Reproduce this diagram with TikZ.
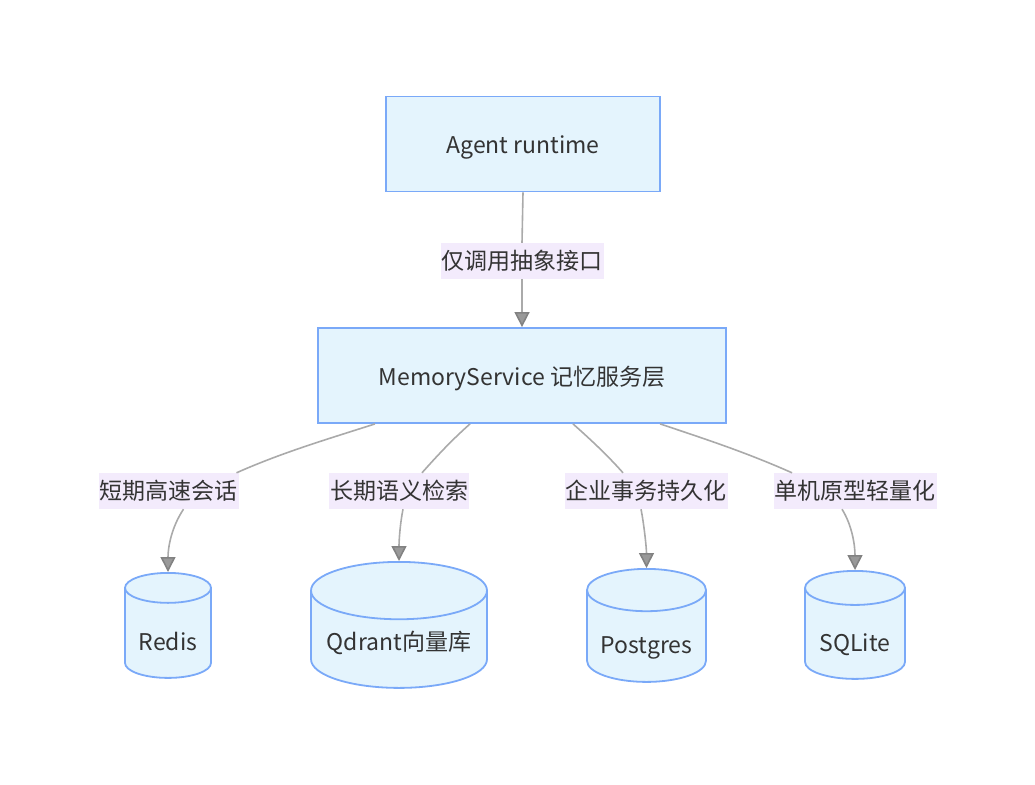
\documentclass[tikz,border=0pt]{standalone}
\usepackage{fontspec}
\setmainfont{Noto Sans CJK SC}
\usetikzlibrary{arrows.meta,shapes.geometric}
\definecolor{boxfill}{HTML}{E4F4FD}
\definecolor{boxline}{HTML}{7AA9F8}
\definecolor{lblfill}{HTML}{F3EBFC}
\definecolor{linkgray}{HTML}{AAAAAA}
\definecolor{tipgray}{HTML}{999999}
\definecolor{txtgray}{HTML}{333333}

\begin{document}
\begin{tikzpicture}[x=1pt, y=-1pt,
    every node/.style={text=txtgray, font=\fontsize{23}{28}\selectfont},
    svcbox/.style={draw=boxline, fill=boxfill, line width=1.8pt,
        minimum height=95pt, text height=24pt, text depth=5pt},
    dbcyl/.style={cylinder, shape border rotate=90, anchor=north,
        draw=boxline, fill=boxfill, line width=1.8pt,
        text height=35pt, text depth=6pt},
    linklbl/.style={fill=lblfill, inner xsep=1pt, inner ysep=0pt,
        minimum height=36pt},
    link/.style={draw=linkgray, line width=1.6pt},
    arr/.style={link, -{Triangle[length=15pt, width=15pt,
        color=tipgray!85!black, fill=tipgray]}}]
    \useasboundingbox (0,0) rectangle (1035,784);
    \path (523,144) node[svcbox, minimum width=274pt](agent){Agent runtime};
    \path (522,375.5) node[svcbox, minimum width=408pt](memsvc){MemoryService 记忆服务层};
    \path (522,261) node[linklbl](lblapi){仅调用抽象接口};
    \draw[link] (agent.south) -- (lblapi.north);
    \draw[arr] (lblapi.south) -- (memsvc.north);
    \path (168,572) node[dbcyl, aspect=0.46, minimum width=86pt, minimum height=105pt](redis){Redis};
    \path (399,561) node[dbcyl, aspect=0.38, minimum width=176pt, minimum height=126pt, text height=20pt](qdrant){Qdrant向量库};
    \path (646.5,568) node[dbcyl, aspect=0.43, minimum width=119pt, minimum height=113pt, text height=33pt](pg){Postgres};
    \path (855,570) node[dbcyl, aspect=0.44, minimum width=100pt, minimum height=108pt](sqlite){SQLite};
    \path (168.5,491) node[linklbl](lblredis){短期高速会话};
    \path (399,491) node[linklbl](lblqdrant){长期语义检索};
    \path (646,491) node[linklbl](lblpg){企业事务持久化};
    \path (855,491) node[linklbl](lblsqlite){单机原型轻量化};
    \draw[link] ([xshift=-147pt]memsvc.south) .. controls +(-50,16) and +(45,-20) .. ([xshift=68pt]lblredis.north);
    \draw[arr] ([xshift=15pt]lblredis.south) .. controls +(-12,18) and +(0,-25) .. (redis.north);
    \draw[link] ([xshift=-52pt]memsvc.south) .. controls +(-18,16) and +(16,-18) .. ([xshift=23pt]lblqdrant.north);
    \draw[arr] ([xshift=4pt]lblqdrant.south) .. controls +(-3,15) and +(0,-20) .. (qdrant.north);
    \draw[link] ([xshift=51pt]memsvc.south) .. controls +(18,16) and +(-16,-18) .. ([xshift=-23pt]lblpg.north);
    \draw[arr] ([xshift=-5pt]lblpg.south) .. controls +(3,15) and +(0,-20) .. (pg.north);
    \draw[link] ([xshift=138pt]memsvc.south) .. controls +(48,16) and +(-45,-20) .. ([xshift=-63pt]lblsqlite.north);
    \draw[arr] ([xshift=-13pt]lblsqlite.south) .. controls +(10,16) and +(0,-25) .. (sqlite.north);
\end{tikzpicture}
\end{document}
